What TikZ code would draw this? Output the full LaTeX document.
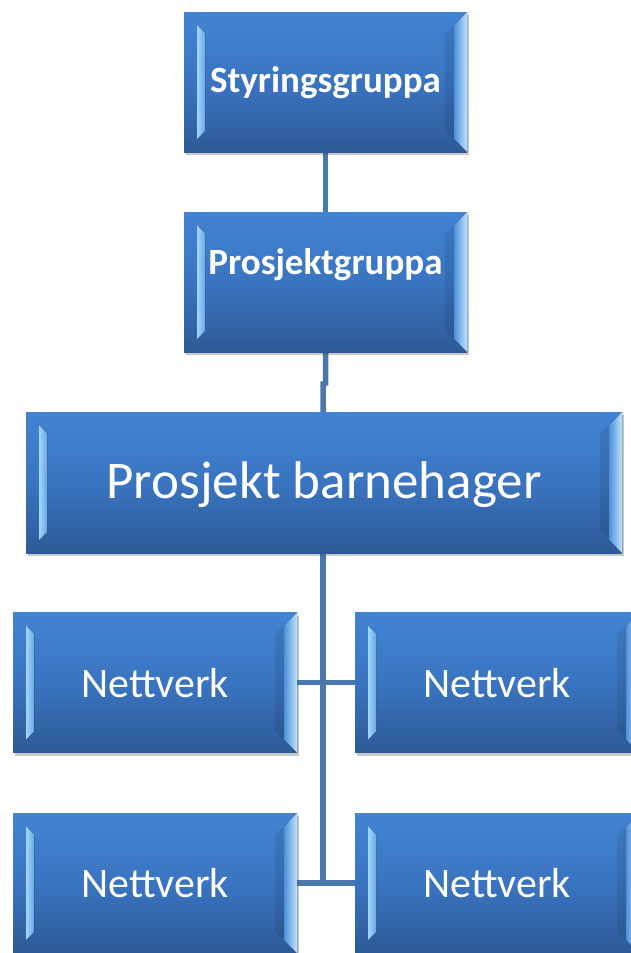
\documentclass[tikz,border=0pt]{standalone}
\usepackage{fontspec}
\setmainfont{Carlito}
\usetikzlibrary{shadows,calc,backgrounds}
\definecolor{conncol}{HTML}{4A78AD}
\definecolor{boxtop}{HTML}{4284D3}
\definecolor{boxmid}{HTML}{3A74C0}
\definecolor{boxbot}{HTML}{2D5A97}
\definecolor{bevlight}{HTML}{A0D6FF}
\definecolor{bevmid}{HTML}{6AA6E4}
\definecolor{bevrlo}{HTML}{4F8FD8}
\definecolor{bevrhi}{HTML}{BDE4FF}
\tikzset{
  orgbox/.style={rectangle, inner sep=0pt, text=white,
    top color=boxtop, bottom color=boxbot, middle color=boxmid,
    drop shadow={shadow xshift=2pt, shadow yshift=-3pt, opacity=.3, fill=black!70},
    path picture={
      \coordinate (ppA) at (path picture bounding box.north west);
      \coordinate (ppB) at (path picture bounding box.south east);
      \fill[left color=bevlight, right color=bevmid] let \p1=(ppA), \p2=(ppB) in
        (\x1+13pt,\y1-13pt) -- (\x1+21pt,\y1-21pt) -- (\x1+21pt,\y2+21pt) -- (\x1+13pt,\y2+13pt) -- cycle;
      \fill[black, opacity=.08] let \p1=(ppA), \p2=(ppB) in
        (\x2-22pt,\y1-22pt) -- (\x2-13pt,\y1-13pt) -- (\x2-13pt,\y2+13pt) -- (\x2-22pt,\y2+22pt) -- cycle;
      \fill[left color=bevrlo, right color=bevrhi] let \p1=(ppA), \p2=(ppB) in
        (\x2-13pt,\y1-13pt) -- (\x2,\y1) -- (\x2,\y2) -- (\x2-13pt,\y2+13pt) -- cycle;
    }},
  topbox/.style={orgbox, minimum width=283pt, minimum height=140pt,
    font=\fontsize{37}{44}\selectfont\bfseries},
  bigbox/.style={orgbox, minimum width=596pt, minimum height=141pt,
    font=\fontsize{53}{64}\selectfont, text height=36pt, text depth=4pt},
  netbox/.style={orgbox, minimum width=284pt, minimum height=140pt,
    font=\fontsize{42}{50}\selectfont, text height=29pt, text depth=0pt},
  conn/.style={draw=conncol, line width=5.5pt},
}
\begin{document}
\begin{tikzpicture}[x=1pt, y=-1pt]
  \useasboundingbox (0,0) rectangle (630,953);
  \node[topbox, text height=27pt, text depth=7pt] (s) at (325.5,82) {Styringsgruppa};
  \node[topbox, text height=24pt, text depth=40pt] (p) at (325.5,282) {Prosjektgruppa};
  \node[bigbox] (b) at (324,482.5) {Prosjekt barnehager};
  \node[netbox] (n1) at (155,682.5) {Nettverk};
  \node[netbox] (n2) at (497,682.5) {Nettverk};
  \node[netbox] (n3) at (155,883) {Nettverk};
  \node[netbox] (n4) at (497,883) {Nettverk};
  \begin{pgfonlayer}{background}
    \draw[conn] (s.south) -- (p.north);
    \draw[conn] (p.south) -- ++(0,31) -- ($(b.north)+(-1,-28)$) -- ([xshift=-1pt]b.north);
    \draw[conn] ([xshift=-1pt]b.south) -- ([xshift=-1pt]b.south |- n3.east);
    \draw[conn] (n1.east) -- (n2.west);
    \draw[conn] (n3.east) -- (n4.west);
  \end{pgfonlayer}
\end{tikzpicture}
\end{document}
